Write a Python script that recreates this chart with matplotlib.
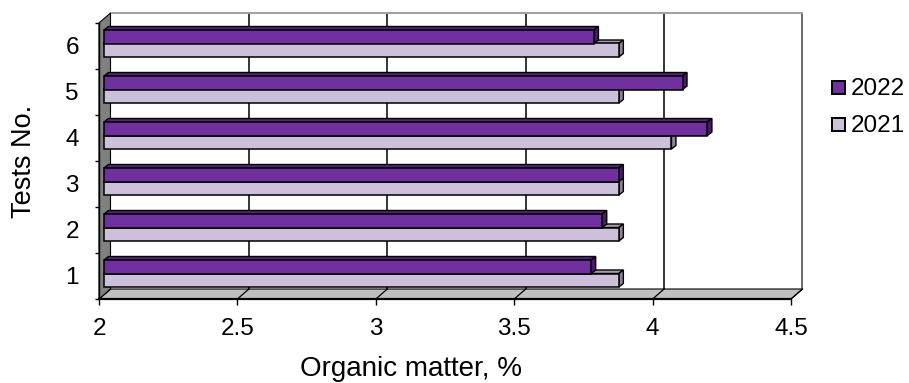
import matplotlib
matplotlib.use("Agg")
import matplotlib.pyplot as plt
from matplotlib.patches import Polygon, Rectangle

# ---- data ----
tests = [1, 2, 3, 4, 5, 6]
organic_2022 = [3.76, 3.80, 3.86, 4.18, 4.09, 3.77]
organic_2021 = [3.86, 3.86, 3.86, 4.05, 3.86, 3.86]
x_ticks = [2.0, 2.5, 3.0, 3.5, 4.0, 4.5]
x_tick_labels = ["2", "2.5", "3", "3.5", "4", "4.5"]
y_tick_labels = ["1", "2", "3", "4", "5", "6"]
series_labels = ["2022", "2021"]

plt.rcParams['font.family'] = ['Liberation Sans', 'DejaVu Sans']

W, H, DPI = 909, 383, 100
fig = plt.figure(figsize=(W / DPI, H / DPI), dpi=DPI)
L, R, T, B = 99, 791, 23, 299
ax = fig.add_axes([L / W, 1 - B / H, (R - L) / W, (B - T) / H])
xmin, xmax = 2.0, 4.5
ymin, ymax = 0.5, 6.5
ax.set_xlim(xmin, xmax)
ax.set_ylim(ymin, ymax)
sx = (xmax - xmin) / (R - L)
sy = (ymax - ymin) / (B - T)


def px(dx, dy):
    return dx * sx, dy * sy


bdx, bdy = px(11.5, 10)     # back wall depth offset
pdx, pdy = px(5, 2.5)       # plane of the bars
ddx, ddy = px(4.5, 3.5)     # bar depth
h = 13.5 * sy               # bar thickness

ax.patch.set_visible(False)
for s in ['top', 'right']:
    ax.spines[s].set_visible(False)
ax.spines['left'].set_linewidth(1.0)
ax.spines['bottom'].set_linewidth(1.6)
ax.spines['left'].set_zorder(2.6)
ax.spines['bottom'].set_zorder(2.6)

# back wall
ax.add_patch(Rectangle((xmin + bdx, ymin + bdy), xmax - xmin, ymax - ymin,
                       facecolor='white', edgecolor='none', zorder=0.2, clip_on=False))
# floor
ax.add_patch(Polygon([(xmin, ymin), (xmax, ymin), (xmax + bdx, ymin + bdy), (xmin + bdx, ymin + bdy)],
                     closed=True, facecolor='#C0C0C0', edgecolor='black', lw=0.8,
                     zorder=0.5, clip_on=False))
# gridlines on back wall and floor
for x in x_ticks:
    if x > xmin:
        col = 'black' if x < xmax else '#444444'
        ax.plot([x + bdx, x + bdx], [ymin + bdy, ymax + bdy], color=col, lw=1.1,
                zorder=0.6, clip_on=False, solid_capstyle='butt')
    ax.plot([x, x + bdx], [ymin, ymin + bdy], color='black', lw=0.9, zorder=0.6, clip_on=False)
# top edge of back wall
ax.plot([xmin + bdx, xmax + bdx], [ymax + bdy, ymax + bdy], color='#A0A0A0', lw=1.4,
        zorder=0.6, clip_on=False)
# left side wall
ax.add_patch(Polygon([(xmin, ymin), (xmin, ymax), (xmin + bdx, ymax + bdy), (xmin + bdx, ymin + bdy)],
                     closed=True, facecolor='#808080', edgecolor='black', lw=0.8,
                     zorder=0.7, clip_on=False))

# bars
styles = {
    "2021": dict(face='#CCC0DA', top='#A59DAF', side='#8C8496', z=3.0, below=True),
    "2022": dict(face='#7030A0', top='#55227A', side='#471C66', z=3.4, below=False),
}
for name, vals in (("2021", organic_2021), ("2022", organic_2022)):
    st = styles[name]
    y0s = [t + pdy - h if st['below'] else t + pdy for t in tests]
    for y0, v in zip(y0s, vals):
        x0, x1 = xmin + pdx, v + pdx
        y1 = y0 + h
        ax.add_patch(Polygon([(x0, y1), (x0 + ddx, y1 + ddy), (x1 + ddx, y1 + ddy), (x1, y1)],
                             closed=True, facecolor=st['top'], edgecolor='black', lw=1.0,
                             zorder=st['z'], clip_on=False))
        ax.add_patch(Polygon([(x1, y0), (x1, y1), (x1 + ddx, y1 + ddy), (x1 + ddx, y0 + ddy)],
                             closed=True, facecolor=st['side'], edgecolor='black', lw=1.0,
                             zorder=st['z'], clip_on=False))
    ax.barh([y + h / 2 for y in y0s], [v - xmin for v in vals], left=xmin + pdx, height=h,
            color=st['face'], edgecolor='black', linewidth=1.1, zorder=st['z'] + 0.1,
            label=name)

# ticks
ax.set_xticks(x_ticks)
ax.set_xticklabels(x_tick_labels)
ax.set_yticks([t - 0.5 for t in tests] + [tests[-1] + 0.5])
ax.set_yticklabels([])
ax.set_yticks(tests, minor=True)
ax.set_yticklabels(y_tick_labels, minor=True)
ax.tick_params(axis='x', which='major', direction='out', length=4.5, width=1.0,
               labelsize=17.5, pad=9)
ax.tick_params(axis='y', which='major', direction='out', length=3, width=1.0)
ax.tick_params(axis='y', which='minor', length=0, labelsize=17.5, pad=14.5)

# axis titles
fig.text(411 / W, 1 - 376 / H, "Organic matter, %", fontsize=20, ha='center', va='baseline')
fig.text(24 / W, 1 - 161 / H, "Tests No.", fontsize=19.5, rotation=90, ha='center', va='center')

# legend
leg_colors = {"2022": '#7030A0', "2021": '#CCC0DA'}
for name, base in (("2022", 95), ("2021", 132)):
    fig.add_artist(Rectangle((832 / W, 1 - (base - 1) / H), 13 / W, 13 / H,
                             transform=fig.transFigure, facecolor=leg_colors[name],
                             edgecolor='black', lw=1.4))
    fig.text(851 / W, 1 - base / H, name, fontsize=17.5, ha='left', va='baseline')

fig.savefig("out.png", dpi=DPI)
